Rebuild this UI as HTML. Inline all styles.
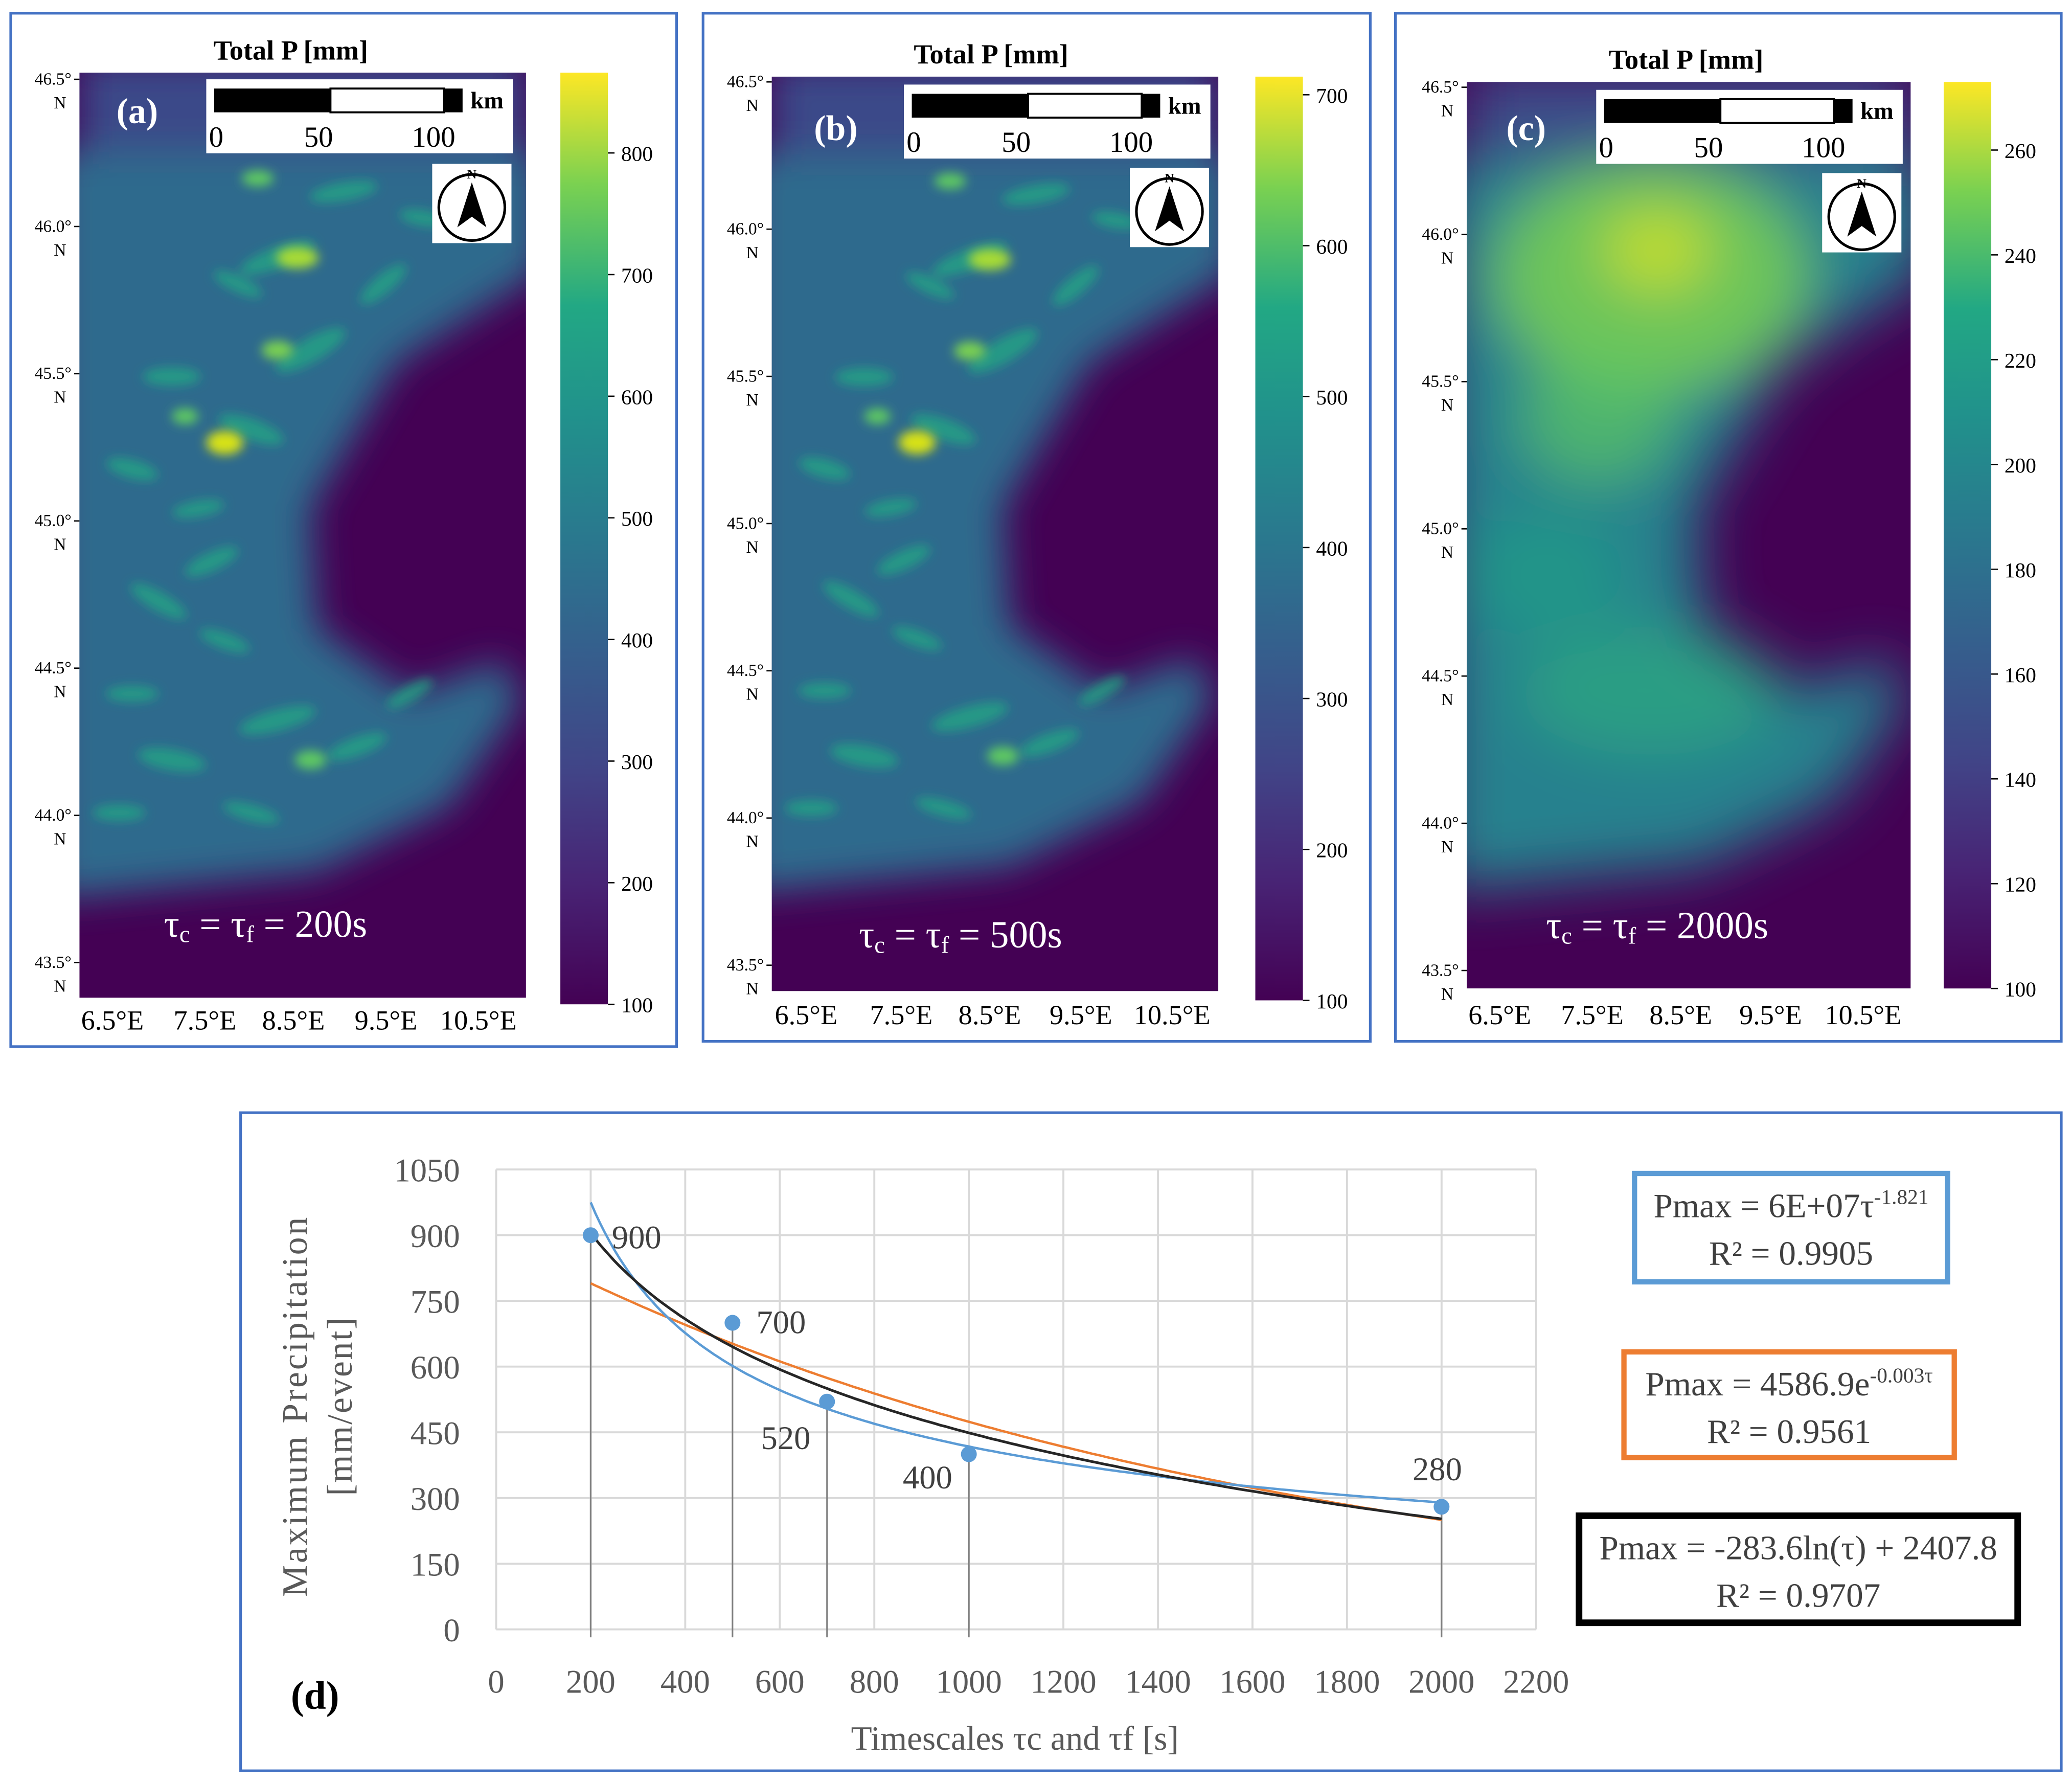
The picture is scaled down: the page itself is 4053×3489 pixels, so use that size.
<!DOCTYPE html>
<html><head><meta charset="utf-8"><style>
html,body{margin:0;padding:0;background:#fff}
svg{display:block}
text{font-family:"Liberation Serif",serif}
</style></head><body>
<svg id="root" width="4053" height="3489" viewBox="0 0 1568 1350" xmlns="http://www.w3.org/2000/svg">
<defs>
<linearGradient id="viridis" x1="0" y1="1" x2="0" y2="0">
<stop offset="0" stop-color="#440154"/><stop offset="0.13" stop-color="#482475"/><stop offset="0.25" stop-color="#414487"/><stop offset="0.38" stop-color="#355f8d"/><stop offset="0.5" stop-color="#2a788e"/><stop offset="0.63" stop-color="#21918c"/><stop offset="0.75" stop-color="#22a884"/><stop offset="0.88" stop-color="#7ad151"/><stop offset="1" stop-color="#fde725"/>
</linearGradient>
<filter id="blur8"><feGaussianBlur stdDeviation="14"/></filter>
<filter id="blur4"><feGaussianBlur stdDeviation="4"/></filter>
<filter id="blur20"><feGaussianBlur stdDeviation="22"/></filter>
</defs>
<g id="maps"></g>
<g id="chart"></g>
</svg>
<script>
const NS="http://www.w3.org/2000/svg";
function el(tag,attrs,parent,txt){const e=document.createElementNS(NS,tag);for(const k in attrs)e.setAttribute(k,attrs[k]);if(txt!==undefined)e.textContent=txt;parent.appendChild(e);return e;}
// chart data
const xTicks=[0,200,400,600,800,1000,1200,1400,1600,1800,2000,2200];
const yTicks=[0,150,300,450,600,750,900,1050];
const tauValues=[200,500,700,1000,2000];
const pmaxValues=[900,700,520,400,280];
const pointLabels=["900","700","520","400","280"];
const cbTicksA=[100,200,300,400,500,600,700,800];
const cbTicksB=[100,200,300,400,500,600,700];
const cbTicksC=[100,120,140,160,180,200,220,240,260];
const latTicks=["46.5°","46.0°","45.5°","45.0°","44.5°","44.0°","43.5°"];
const lonTicks=["6.5°E","7.5°E","8.5°E","9.5°E","10.5°E"];

const maps=document.getElementById('maps');
const panels=[
 {id:'a',box:[8,10,504,782],map:[60,55,338,700],cb:[424,55,36,705],cbMin:100,cbMax:866,ticks:cbTicksA,lat0:60,lon:[85,155,222,292,362],lonY:779,scale:[156,60],comp:[327,124],tau:"200s",taux:124,tauy:709,lab:[88,93]},
 {id:'b',box:[532,10,505,778],map:[584,58,338,692],cb:[950,58,36,699],cbMin:100,cbMax:712,ticks:cbTicksB,lat0:62,lon:[610,682,749,818,887],lonY:775,scale:[684,64],comp:[855,127],tau:"500s",taux:650,tauy:717,lab:[616,106]},
 {id:'c',box:[1056,10,504,778],map:[1110,62,336,686],cb:[1471,62,36,686],cbMin:100,cbMax:273,ticks:cbTicksC,lat0:66,lon:[1135,1205,1272,1340,1410],lonY:775,scale:[1208,68],comp:[1379,131],tau:"2000s",taux:1170,tauy:710,lab:[1140,106]}
];
const ridges=[[150,140,30,8,-20],[175,210,30,9,-30],[130,270,26,8,20],[70,230,22,7,0],[200,90,26,7,-10],[60,400,24,7,30],[150,490,30,8,-15],[70,520,26,8,10],[100,370,22,7,-25],[40,300,20,7,15],[230,160,22,7,-40],[110,430,20,6,20],[210,510,24,7,-20],[250,470,20,6,-30],[40,470,20,6,0],[120,160,20,6,25],[90,330,20,6,-10],[260,110,18,6,10],[30,560,20,6,0],[130,560,22,6,15]];
panels.forEach(p=>{
 const g=el('g',{},maps);
 
 
 el('rect',{x:p.box[0],y:p.box[1],width:p.box[2],height:p.box[3],fill:'none',stroke:'#4472c4','stroke-width':2},g);
 const [mx,my,mw,mh]=p.map;
 const cid='clip'+p.id;
 const cp=el('clipPath',{id:cid},g);el('rect',{x:mx,y:my,width:mw,height:mh},cp);
 const mg=el('g',{'clip-path':`url(#${cid})`},g);
 
 
 el('rect',{x:mx,y:my,width:mw,height:mh,fill:'#440154'},mg);
 const sx=mw/338,sy=mh/700;
 const isC=p.id==='c';
 const band=isC?'#26818e':'#2f6a8d';
 const bg=el('g',{filter:isC?'url(#blur20)':'url(#blur8)'},mg);
 el('path',{d:`M${mx-20} ${my+60*sy} L${mx+350*sx} ${my+60*sy} L${mx+350*sx} ${my+150*sy} L${mx+240*sx} ${my+220*sy} L${mx+175*sx} ${my+330*sy} L${mx+180*sx} ${my+420*sy} L${mx+250*sx} ${my+470*sy} L${mx+320*sx} ${my+445*sy} L${mx+335*sx} ${my+475*sy} L${mx+280*sx} ${my+555*sy} L${mx+180*sx} ${my+605*sy} L${mx-20} ${my+625*sy} Z`,fill:band},bg);
 el('rect',{x:mx,y:my-10,width:mw,height:70*sy,fill:isC?'#3d4d8a':'#3b4a89'},bg);
 if(isC){
  el('ellipse',{cx:mx+140*sx,cy:my+150*sy,rx:120*sx,ry:90*sy,fill:'#7ad151',opacity:0.85},bg);
  el('ellipse',{cx:mx+145*sx,cy:my+130*sy,rx:40*sx,ry:30*sy,fill:'#d8e219',opacity:0.8},bg);
  el('ellipse',{cx:mx+100*sx,cy:my+260*sy,rx:60*sx,ry:50*sy,fill:'#5ec962',opacity:0.7},bg);
  el('ellipse',{cx:mx+140*sx,cy:my+470*sy,rx:100*sx,ry:50*sy,fill:'#2db27d',opacity:0.6},bg);
  el('ellipse',{cx:mx+60*sx,cy:my+380*sy,rx:60*sx,ry:50*sy,fill:'#22a884',opacity:0.5},bg);
 }else{
  const rg=el('g',{filter:'url(#blur4)'},mg);
  ridges.forEach(s=>el('ellipse',{cx:mx+s[0]*sx,cy:my+s[1]*sy,rx:s[2],ry:s[3],fill:'#22a884',opacity:0.75,transform:`rotate(${s[4]} ${mx+s[0]*sx} ${my+s[1]*sy})`},rg));
  const hg=el('g',{filter:'url(#blur4)'},mg);
  [[110,280,14,9,'#d8e219'],[165,140,16,8,'#a8db34'],[150,210,12,7,'#7ad151'],[135,80,12,6,'#5ec962'],[175,520,12,7,'#5ec962'],[80,260,10,6,'#5ec962']].forEach(s=>el('ellipse',{cx:mx+s[0]*sx,cy:my+s[1]*sy,rx:s[2],ry:s[3],fill:s[4]},hg));
 }
 const [cx,cy,cw,ch]=p.cb;
 const cbg=el('g',{},g);
 
 
 el('rect',{x:cx,y:cy,width:cw,height:ch,fill:'url(#viridis)'},cbg);
 p.ticks.forEach(t=>{
  const y=cy+ch-(t-p.cbMin)/(p.cbMax-p.cbMin)*ch;
  el('line',{x1:cx+cw,x2:cx+cw+5,y1:y,y2:y,stroke:'#000','stroke-width':1},cbg);
  const tt=el('text',{x:cx+cw+10,y:y+6,'font-size':16,'font-family':'Liberation Sans, sans-serif'},cbg,String(t));
  
  
 });
 const tl=el('text',{x:p.id==='a'?220:p.id==='b'?750:1276,y:my-10,'font-size':21,'font-weight':'bold','text-anchor':'middle'},g,'Total P [mm]');
 
 
 latTicks.forEach((l,i)=>{
  const y=p.lat0+i*111.4;
  el('text',{x:mx-6,y:y+4,'font-size':13,'text-anchor':'end'},g,l);
  el('text',{x:mx-10,y:y+22,'font-size':13,'text-anchor':'end'},g,'N');
  el('line',{x1:mx-4,x2:mx,y1:y,y2:y,stroke:'#000'},g);
 });
 lonTicks.forEach((l,i)=>{
  el('text',{x:p.lon[i],y:p.lonY,'font-size':21,'text-anchor':'middle'},g,l);
 });
 const [bx,by]=p.scale;
 const sb=el('g',{},g);
 
 
 el('rect',{x:bx,y:by,width:232,height:56,fill:'#fff'},sb);
 el('rect',{x:bx+6,y:by+7,width:88,height:18,fill:'#000'},sb);
 el('rect',{x:bx+94,y:by+7,width:86,height:18,fill:'#fff',stroke:'#000','stroke-width':1.5},sb);
 el('rect',{x:bx+180,y:by+7,width:14,height:18,fill:'#000'},sb);
 el('text',{x:bx+200,y:by+22,'font-size':18,'font-weight':'bold'},sb,'km');
 el('text',{x:bx+2,y:by+51,'font-size':22,'font-family':'Liberation Sans, sans-serif'},sb,'0');
 el('text',{x:bx+85,y:by+51,'font-size':22,'text-anchor':'middle','font-family':'Liberation Sans, sans-serif'},sb,'50');
 el('text',{x:bx+172,y:by+51,'font-size':22,'text-anchor':'middle','font-family':'Liberation Sans, sans-serif'},sb,'100');
 const [ox,oy]=p.comp;
 const cg=el('g',{},g);
 
 
 el('rect',{x:ox,y:oy,width:60,height:60,fill:'#fff'},cg);
 el('circle',{cx:ox+30,cy:oy+33,r:25,fill:'none',stroke:'#000','stroke-width':2},cg);
 el('path',{d:`M${ox+30} ${oy+14} L${ox+19} ${oy+48} L${ox+30} ${oy+40} L${ox+41} ${oy+48} Z`,fill:'#000'},cg);
 el('text',{x:ox+30,y:oy+11,'font-size':10,'text-anchor':'middle','font-weight':'bold','font-family':'Liberation Sans, sans-serif'},cg,'N');
 const lb=el('text',{x:p.lab[0],y:p.lab[1],'font-size':27,'font-weight':'bold',fill:'#fff'},g,'('+p.id+')');
 
 
 const tu=el('text',{x:p.taux,y:p.tauy,'font-size':29,fill:'#fff'},g);
 
 
 tu.innerHTML='τ<tspan font-size="18" dy="4">c</tspan><tspan dy="-4"> = τ</tspan><tspan font-size="18" dy="4">f</tspan><tspan dy="-4"> = '+p.tau+'</tspan>';
});

// chart d
const ch=document.getElementById('chart');
el('rect',{x:182,y:842,width:1378,height:498,fill:'#fff',stroke:'#4472c4','stroke-width':2},ch);
const X=v=>375.4+v*(1091-447)/1800;
const Y=v=>1233-v*348/1050;
xTicks.forEach(t=>{
 el('line',{x1:X(t),x2:X(t),y1:Y(0),y2:Y(1050),stroke:'#d9d9d9','stroke-width':1.5},ch);
 const tx=el('text',{x:X(t),y:1281,'font-size':25,fill:'#595959','text-anchor':'middle'},ch,String(t));
 
 
});
yTicks.forEach(t=>{
 el('line',{x1:X(0),x2:X(2200),y1:Y(t),y2:Y(t),stroke:'#d9d9d9','stroke-width':1.5},ch);
 const ty=el('text',{x:348,y:Y(t)+9,'font-size':25,fill:'#595959','text-anchor':'end'},ch,String(t));
 
 
});
tauValues.forEach((t,i)=>{
 el('line',{x1:X(t),x2:X(t),y1:Y(pmaxValues[i]),y2:Y(0)+6,stroke:'#7f7f7f','stroke-width':1.2},ch);
});
function curve(f,color,w,name){
 let d='';for(let t=200;t<=2000;t+=10){d+=(t===200?'M':'L')+X(t).toFixed(1)+' '+Y(f(t)).toFixed(1);}
 const p=el('path',{d:d,fill:'none',stroke:color,'stroke-width':w},ch);
 
 
}
curve(t=>898*Math.exp(-0.000639*t),'#ed7d31',1.8,'exp-fit-line');
curve(t=>975*Math.pow(t/200,-0.527),'#5b9bd5',1.8,'power-fit-line');
curve(t=>-283.6*Math.log(t)+2407.8,'#262626',2,'log-fit-line');
const lblOff=[[16,10],[18,8],[-50,36],[-50,26],[-22,-20]];
tauValues.forEach((t,i)=>{
 const c=el('circle',{cx:X(t),cy:Y(pmaxValues[i]),r:6,fill:'#5b9bd5'},ch);
 
 
 const l=el('text',{x:X(t)+lblOff[i][0],y:Y(pmaxValues[i])+lblOff[i][1],'font-size':25,fill:'#404040'},ch,pointLabels[i]);
 
 
});
const yl=el('text',{transform:'translate(232,1064) rotate(-90)','font-size':27,fill:'#595959','text-anchor':'middle','letter-spacing':1.5},ch,'Maximum Precipitation');


el('text',{transform:'translate(266,1064) rotate(-90)','font-size':27,fill:'#595959','text-anchor':'middle','letter-spacing':1},ch,'[mm/event]');
const xl=el('text',{x:768,y:1324,'font-size':26,fill:'#595959','text-anchor':'middle'},ch,'Timescales τc and τf [s]');


const dl=el('text',{x:220,y:1293,'font-size':30,'font-weight':'bold'},ch,'(d)');


const boxes=[
 {r:[1237,888,237,82],c:'#5b9bd5',w:4,l1:'Pmax = 6E+07τ<tspan font-size="16" dy="-10">-1.821</tspan>',l2:'R² = 0.9905',name:'power-fit-legend'},
 {r:[1229,1023,250,80],c:'#ed7d31',w:4,l1:'Pmax = 4586.9e<tspan font-size="16" dy="-10">-0.003τ</tspan>',l2:'R² = 0.9561',name:'exp-fit-legend'},
 {r:[1195,1147,332,81],c:'#000',w:5,l1:'Pmax = -283.6ln(τ) + 2407.8',l2:'R² = 0.9707',name:'log-fit-legend'}
];
boxes.forEach(b=>{
 const g=el('g',{},ch);
 
 
 el('rect',{x:b.r[0],y:b.r[1],width:b.r[2],height:b.r[3],fill:'#fff',stroke:b.c,'stroke-width':b.w},g);
 const t1=el('text',{x:b.r[0]+b.r[2]/2,y:b.r[1]+33,'font-size':26,fill:'#404040','text-anchor':'middle'},g);
 t1.innerHTML=b.l1;
 el('text',{x:b.r[0]+b.r[2]/2,y:b.r[1]+69,'font-size':26,fill:'#404040','text-anchor':'middle'},g,b.l2);
});
</script>
</body></html>
